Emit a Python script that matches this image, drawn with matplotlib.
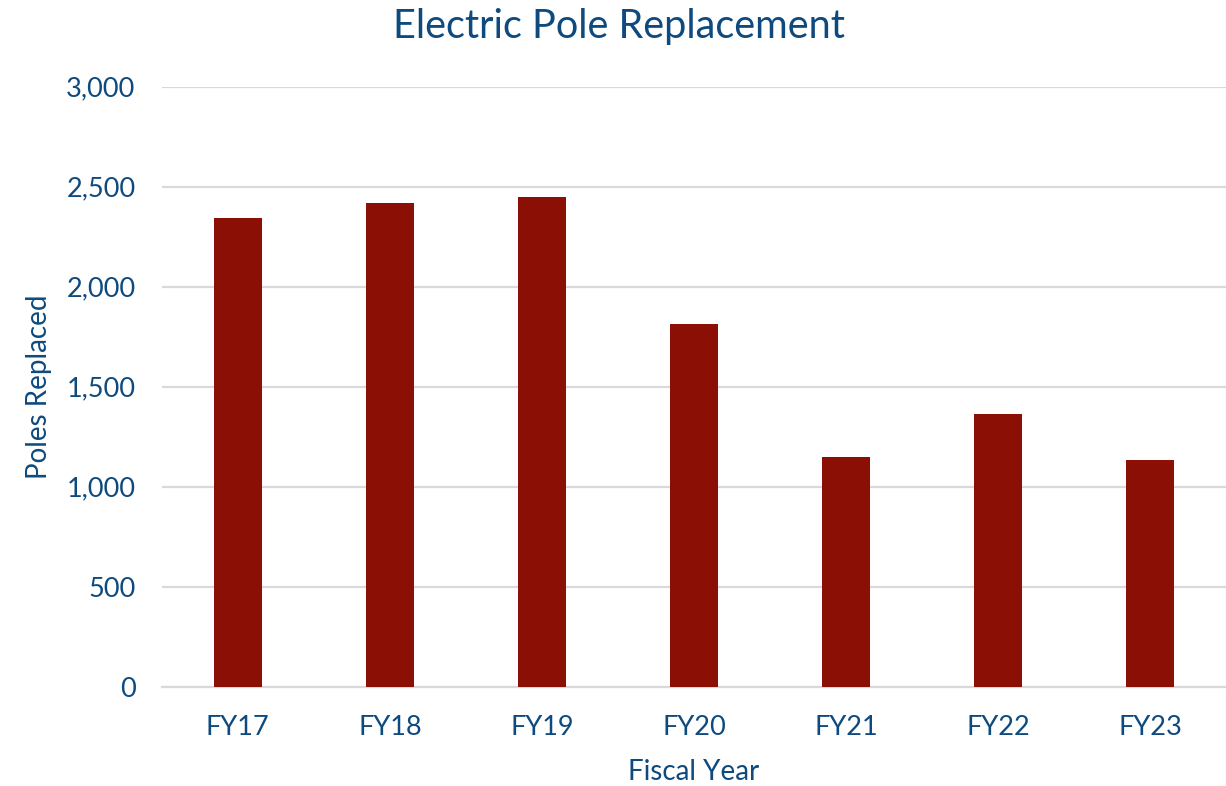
import matplotlib
matplotlib.use("Agg")
import matplotlib.pyplot as plt
from matplotlib.ticker import FuncFormatter

categories = ["FY17", "FY18", "FY19", "FY20", "FY21", "FY22", "FY23"]
poles_replaced = [2343, 2417, 2447, 1813, 1148, 1362, 1135]
y_ticks = [0, 500, 1000, 1500, 2000, 2500, 3000]

text_color = "#0E4A7E"
bar_color = "#8B0F04"
grid_color = "#D9D9D9"

plt.rcParams['font.family'] = ['Lato', 'DejaVu Sans']

fig = plt.figure(figsize=(12.26, 7.86), dpi=100)
ax = fig.add_axes([0.132, 0.1263, 0.868, 0.7634])

x = list(range(len(categories)))
ax.bar(x, poles_replaced, width=0.316, color=bar_color, zorder=3)

ax.set_xlim(-0.5, len(categories) - 0.5)
ax.set_ylim(0, 3000)
ax.set_yticks(y_ticks)
ax.yaxis.set_major_formatter(FuncFormatter(lambda v, p: f"{int(v):,}"))
ax.set_xticks(x)
ax.set_xticklabels(categories)

ax.grid(axis='y', color=grid_color, linewidth=1.6, zorder=0)
for s in ['top', 'right', 'left']:
    ax.spines[s].set_visible(False)
ax.spines['bottom'].set_color(grid_color)
ax.spines['bottom'].set_linewidth(1.6)
ax.tick_params(axis='both', length=0, labelsize=19.5, labelcolor=text_color)
ax.tick_params(axis='y', pad=19)
ax.tick_params(axis='x', pad=20)

ax.set_xlabel("Fiscal Year", fontsize=20, color=text_color, labelpad=14)
ax.set_ylabel("Poles Replaced", fontsize=20, color=text_color, labelpad=10)
fig.suptitle("Electric Pole Replacement", fontsize=28.5, color=text_color, y=0.99, x=0.505)

fig.savefig("out.png", dpi=100)
